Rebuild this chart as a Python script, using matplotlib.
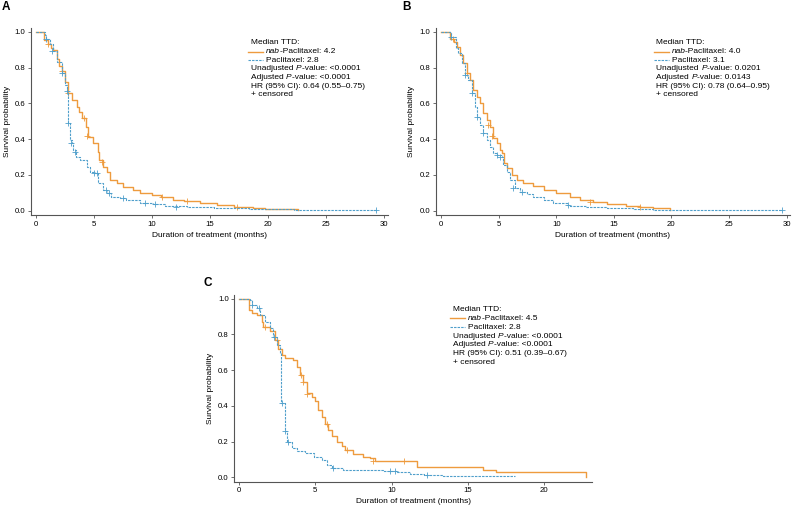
#!/usr/bin/env python3
"""Kaplan-Meier style duration-of-treatment curves, three panels (A, B, C)."""
import matplotlib
matplotlib.use("Agg")
import matplotlib.pyplot as plt
from matplotlib.lines import Line2D
from matplotlib.ticker import FormatStrFormatter

plt.rcParams["font.family"] = ["Liberation Sans", "DejaVu Sans"]

ORANGE = "#EE9B3E"
BLUE = "#4F9FCB"
W, H = 795, 508

# ---- panel A ----
A_nab_t = [0, 0.72, 1.0, 1.3, 1.5, 1.78, 2.0, 2.2, 2.5, 2.8, 3.1, 3.5, 3.7, 3.93, 4.3, 4.5,
           4.94, 5.37, 5.42, 5.8, 6.1, 6.4, 6.95, 7.5, 8.4, 9.0, 10.0, 10.8, 11.8, 12.8,
           14.1, 15.6, 17.1, 18.7, 19.7, 22.6]
A_nab_s = [1.0, 0.953, 0.93, 0.91, 0.90, 0.845, 0.81, 0.78, 0.72, 0.655, 0.62, 0.58, 0.55,
           0.516, 0.47, 0.41, 0.376, 0.33, 0.283, 0.246, 0.218, 0.171, 0.153, 0.134, 0.115,
           0.10, 0.088, 0.078, 0.06, 0.054, 0.041, 0.032, 0.022, 0.013, 0.007, 0.005]
A_pac_t = [0, 0.75, 0.9, 1.2, 1.5, 1.8, 2.2, 2.5, 2.7, 2.8, 2.93, 3.07, 3.2, 3.45, 3.8, 4.36,
           4.65, 5.08, 5.37, 5.8, 6.1, 6.5, 7.2, 7.8, 9.0, 10.1, 11.1, 13.0, 15.3, 18.4, 22.2,
           29.3]
A_pac_s = [1.0, 0.98, 0.96, 0.93, 0.89, 0.83, 0.77, 0.70, 0.67, 0.49, 0.395, 0.376, 0.34,
           0.30, 0.283, 0.246, 0.218, 0.209, 0.153, 0.115, 0.097, 0.078, 0.069, 0.06, 0.045,
           0.037, 0.026, 0.019, 0.013, 0.007, 0.004, 0.004]
A_nab_cens_t = [1.0, 2.2, 2.8, 4.1, 4.4, 5.7, 10.9, 13.0, 17.3]
A_nab_cens_s = [0.93, 0.78, 0.655, 0.516, 0.42, 0.27, 0.078, 0.054, 0.022]
A_pac_cens_t = [0.9, 1.4, 2.2, 2.7, 2.8, 3.0, 3.4, 5.0, 5.3, 6.0, 6.3, 7.5, 9.4, 10.3, 12.1, 29.3]
A_pac_cens_s = [0.96, 0.89, 0.77, 0.67, 0.49, 0.38, 0.33, 0.209, 0.209, 0.115, 0.097, 0.069,
                0.045, 0.037, 0.022, 0.004]

# ---- panel B ----
B_nab_t = [0, 0.78, 1.1, 1.36, 1.65, 1.94, 2.23, 2.52, 2.8, 3.1, 3.38, 3.67, 3.96, 4.25, 4.54,
           4.83, 5.12, 5.3, 5.5, 5.7, 6.13, 6.57, 7.14, 8.0, 8.9, 10.0, 11.2, 12.1, 13.2, 14.4,
           16.1, 17.3, 18.4, 19.9]
B_nab_s = [1.0, 0.96, 0.944, 0.916, 0.87, 0.823, 0.767, 0.73, 0.674, 0.637, 0.60, 0.544, 0.506,
           0.469, 0.404, 0.376, 0.339, 0.32, 0.264, 0.236, 0.199, 0.171, 0.156, 0.138, 0.115,
           0.097, 0.078, 0.06, 0.05, 0.035, 0.026, 0.019, 0.013, 0.004]
B_pac_t = [0, 0.9, 1.3, 1.5, 1.8, 2.08, 2.37, 2.66, 2.95, 3.1, 3.38, 3.67, 3.96, 4.25, 4.54,
           4.83, 5.26, 5.4, 5.7, 6.0, 6.4, 6.86, 7.43, 8.0, 8.9, 9.75, 10.9, 11.2, 12.6, 14.4,
           16.7, 18.4, 29.6]
B_pac_s = [1.0, 0.97, 0.91, 0.88, 0.823, 0.758, 0.73, 0.655, 0.58, 0.525, 0.479, 0.432, 0.395,
           0.358, 0.32, 0.311, 0.30, 0.255, 0.218, 0.171, 0.125, 0.106, 0.091, 0.074, 0.06,
           0.041, 0.032, 0.026, 0.022, 0.013, 0.007, 0.004, 0.004]
B_nab_cens_t = [1.0, 2.3, 4.1, 4.4, 12.9, 17.3]
B_nab_cens_s = [0.96, 0.767, 0.48, 0.42, 0.05, 0.019]
B_pac_cens_t = [0.9, 2.1, 2.66, 3.1, 3.67, 4.83, 5.1, 6.25, 7.0, 11.0, 29.6]
B_pac_cens_s = [0.97, 0.758, 0.655, 0.525, 0.432, 0.311, 0.30, 0.125, 0.106, 0.032, 0.004]

# ---- panel C ----
C_nab_t = [0, 0.7, 0.85, 1.18, 1.5, 1.6, 2.05, 2.38, 2.6, 2.8, 3.03, 3.58, 3.8, 4.0, 4.23,
           4.45, 4.78, 5.0, 5.2, 5.43, 5.65, 5.87, 6.08, 6.4, 6.74, 6.96, 7.5, 8.16, 8.6, 8.9,
           11.65, 15.97, 16.84, 22.7]
C_nab_s = [1.0, 0.937, 0.918, 0.91, 0.87, 0.84, 0.82, 0.77, 0.72, 0.685, 0.67, 0.657, 0.62,
           0.574, 0.536, 0.47, 0.45, 0.425, 0.378, 0.34, 0.30, 0.266, 0.229, 0.20, 0.173, 0.155,
           0.132, 0.117, 0.108, 0.093, 0.061, 0.043, 0.03, 0.0]
C_pac_t = [0, 0.74, 0.85, 1.18, 1.4, 1.72, 2.05, 2.27, 2.5, 2.7, 2.77, 3.0, 3.14, 3.47, 3.8,
           4.34, 4.9, 5.43, 5.76, 6.08, 6.85, 8.16, 9.47, 10.34, 11.2, 12.1, 13.4, 18.1]
C_pac_s = [1.0, 0.99, 0.965, 0.946, 0.91, 0.87, 0.834, 0.787, 0.74, 0.695, 0.415, 0.257, 0.20,
           0.162, 0.145, 0.136, 0.114, 0.095, 0.071, 0.052, 0.043, 0.039, 0.034, 0.028, 0.02,
           0.015, 0.006, 0.006]
C_nab_cens_t = [1.72, 2.5, 4.08, 4.23, 4.45, 5.76, 7.07, 8.8, 10.84]
C_nab_cens_s = [0.84, 0.77, 0.574, 0.536, 0.467, 0.30, 0.155, 0.093, 0.093]
C_pac_cens_t = [0.9, 1.3, 2.3, 2.8, 3.0, 3.2, 6.2, 9.9, 10.2, 12.3]
C_pac_cens_s = [0.965, 0.946, 0.787, 0.415, 0.257, 0.20, 0.052, 0.034, 0.034, 0.015]

# legend rows: list of (text, italic) segments
A_text = [[("Median TTD:", False)],
          [("nab", True), ("-Paclitaxel: 4.2", False)],
          [("Paclitaxel: 2.8", False)],
          [("Unadjusted ", False), ("P", True), ("-value: <0.0001", False)],
          [("Adjusted ", False), ("P", True), ("-value: <0.0001", False)],
          [("HR (95% CI): 0.64 (0.55–0.75)", False)],
          [("+ censored", False)]]
B_text = [[("Median TTD:", False)],
          [("nab", True), ("-Paclitaxel: 4.0", False)],
          [("Paclitaxel: 3.1", False)],
          [("Unadjusted ", False), ("P", True), ("-value: 0.0201", False)],
          [("Adjusted ", False), ("P", True), ("-value: 0.0143", False)],
          [("HR (95% CI): 0.78 (0.64–0.95)", False)],
          [("+ censored", False)]]
C_text = [[("Median TTD:", False)],
          [("nab", True), ("-Paclitaxel: 4.5", False)],
          [("Paclitaxel: 2.8", False)],
          [("Unadjusted ", False), ("P", True), ("-value: <0.0001", False)],
          [("Adjusted ", False), ("P", True), ("-value: <0.0001", False)],
          [("HR (95% CI): 0.51 (0.39–0.67)", False)],
          [("+ censored", False)]]

PANELS = {
    "A": dict(nab=(A_nab_t, A_nab_s, A_nab_cens_t, A_nab_cens_s),
              pac=(A_pac_t, A_pac_s, A_pac_cens_t, A_pac_cens_s), text=A_text),
    "B": dict(nab=(B_nab_t, B_nab_s, B_nab_cens_t, B_nab_cens_s),
              pac=(B_pac_t, B_pac_s, B_pac_cens_t, B_pac_cens_s), text=B_text),
    "C": dict(nab=(C_nab_t, C_nab_s, C_nab_cens_t, C_nab_cens_s),
              pac=(C_pac_t, C_pac_s, C_pac_cens_t, C_pac_cens_s), text=C_text),
}

# layout in pixels: axes box (left, top, right, bottom), xlim, xticks, legend (x, y0, dy), letter
LAYOUT = {
    "A": dict(box=(31, 28.3, 388, 215), xlim=(-0.43, 30.34), xticks=range(0, 31, 5),
              leg=(251, 43, 8.6), letter=(2, 7)),
    "B": dict(box=(435.7, 28.3, 790, 215), xlim=(-0.46, 30.3), xticks=range(0, 31, 5),
              leg=(656.5, 43, 8.6), letter=(402, 7)),
    "C": dict(box=(234.3, 295.3, 591.7, 481.7), xlim=(-0.29, 23.1), xticks=range(0, 21, 5),
              leg=(453, 309.3, 8.9), letter=(203, 283)),
}

FS = 5.6


def fx(x):
    return x / W


def fy(y):
    return 1 - y / H


def segmented_text(fig, renderer, x, y, segments, fs):
    """Write a row of text pieces side by side, some in italics (x, y in pixels)."""
    for txt, italic in segments:
        t = fig.text(fx(x), fy(y), txt, fontsize=fs, va="center", ha="left",
                     fontstyle="italic" if italic else "normal")
        x += t.get_window_extent(renderer).width


def draw_panel(fig, renderer, key):
    d, lay = PANELS[key], LAYOUT[key]
    l, t, r, b = lay["box"]
    ax = fig.add_axes([fx(l), fy(b), fx(r) - fx(l), fy(t) - fy(b)])

    tt, ss, ct, cs = d["nab"]
    ax.step(tt, ss, where="post", color=ORANGE, lw=1.0)
    ax.plot(ct, cs, "+", color=ORANGE, ms=4, mew=0.6)
    tt, ss, ct, cs = d["pac"]
    ax.step(tt, ss, where="post", color=BLUE, lw=0.8, ls=(0, (2.2, 1.0)))
    ax.plot(ct, cs, "+", color=BLUE, ms=4, mew=0.6)

    ax.set_xlim(*lay["xlim"])
    ax.set_ylim(-0.024, 1.019)
    ax.set_xticks(list(lay["xticks"]))
    ax.set_yticks([0, 0.2, 0.4, 0.6, 0.8, 1.0])
    ax.yaxis.set_major_formatter(FormatStrFormatter("%.1f"))
    for s in ("top", "right"):
        ax.spines[s].set_visible(False)
    for s in ("left", "bottom"):
        ax.spines[s].set_color("#555555")
        ax.spines[s].set_linewidth(0.8)
    ax.tick_params(labelsize=FS, length=2.5, width=0.6, color="#555555", pad=1.5)
    ax.set_xlabel("Duration of treatment (months)", fontsize=FS + 0.4, labelpad=3)
    ax.set_ylabel("Survival probability", fontsize=FS + 0.4, labelpad=3)

    x0, y0, dy = lay["leg"]
    for i, row in enumerate(d["text"]):
        y = y0 + i * dy
        if i in (1, 2):
            style = dict(color=ORANGE, lw=1.0) if i == 1 else dict(color=BLUE, lw=0.8,
                                                                  ls=(0, (2.2, 1.0)))
            fig.add_artist(Line2D([fx(x0 - 3), fx(x0 + 12)], [fy(y), fy(y)], **style))
            segmented_text(fig, renderer, x0 + 15, y, row, FS + 0.4)
        else:
            segmented_text(fig, renderer, x0, y, row, FS + 0.4)

    lx, ly = lay["letter"]
    fig.text(fx(lx), fy(ly), key, fontsize=8.5, fontweight="bold", va="center", ha="left")
    return ax


def main(out="out.png"):
    fig = plt.figure(figsize=(W / 100, H / 100), dpi=100)
    renderer = fig.canvas.get_renderer()
    for key in ("A", "B", "C"):
        draw_panel(fig, renderer, key)
    fig.savefig(out, dpi=100)
    print(f"Saved {out}")


if __name__ == "__main__":
    main()
